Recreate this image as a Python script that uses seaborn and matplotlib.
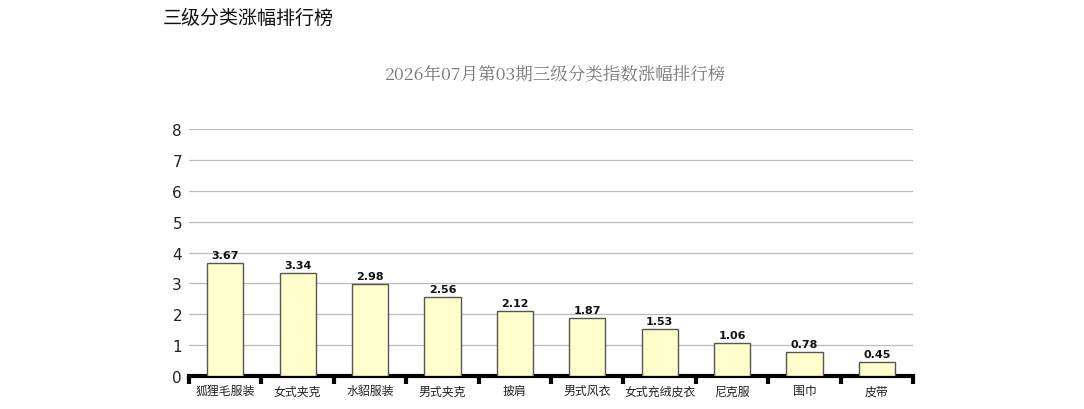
import matplotlib
matplotlib.use("Agg")
import matplotlib.pyplot as plt
import seaborn as sns
import pandas as pd
import numpy as np

categories = ["狐狸毛服装", "女式夹克", "水貂服装", "男式夹克", "披肩", "男式风衣", "女式充绒皮衣", "尼克服", "围巾", "皮带"]
values = [3.67, 3.34, 2.98, 2.56, 2.12, 1.87, 1.53, 1.06, 0.78, 0.45]
yticks = [0, 1, 2, 3, 4, 5, 6, 7, 8]
page_title = "三级分类涨幅排行榜"
chart_title = "2026年07月第03期三级分类指数涨幅排行榜"

sns.set_style("white")
plt.rcParams['font.family'] = ['Noto Sans CJK SC', 'DejaVu Sans']

df = pd.DataFrame({"cat": categories, "val": values})

fig = plt.figure(figsize=(10.84, 4.10), dpi=100)
ax = fig.add_axes([189/1084, 33/410, 724/1084, 247/410])

sns.barplot(data=df, x="cat", y="val", color="#FFFFCC", edgecolor="#555555",
            linewidth=1.0, width=0.5, saturation=1, ax=ax, zorder=3)

ax.set_ylim(0, 8)
ax.set_xlim(-0.5, len(categories) - 0.5)
ax.set_yticks(yticks)
ax.set_yticklabels([str(t) for t in yticks], family=['DejaVu Sans'], fontsize=11, color="#222222")
ax.yaxis.grid(True, color="#BBBBBB", linewidth=0.9, zorder=0)
ax.set_axisbelow(True)
ax.set_xlabel("")
ax.set_ylabel("")

for s in ["top", "right", "left"]:
    ax.spines[s].set_visible(False)
ax.spines["bottom"].set_linewidth(3)
ax.spines["bottom"].set_color("black")

ax.tick_params(axis="y", left=False, length=0, pad=5)
ax.tick_params(axis="x", which="major", bottom=False, length=0, pad=6, labelsize=8.6, labelcolor="#222222")
ax.set_xticks(np.arange(-0.5, len(categories)), minor=True)
ax.tick_params(axis="x", which="minor", bottom=True, length=6, width=3, color="black", direction="out")

for c in ax.containers:
    ax.bar_label(c, labels=[f"{v:.2f}" for v in values], padding=2,
                 fontsize=8, fontweight="bold", family=['DejaVu Sans'], color="#111111")

fig.text(163/1084, 1 - 18/410, page_title, fontsize=13.7, fontweight="medium",
         ha="left", va="center", color="#111111")
fig.text(555/1084, 1 - 75/410, chart_title, fontsize=12.6, ha="center", va="center",
         color="#777777", family=['Noto Serif CJK SC', 'Noto Sans CJK SC', 'DejaVu Sans'])

fig.savefig("out.png", dpi=100)
